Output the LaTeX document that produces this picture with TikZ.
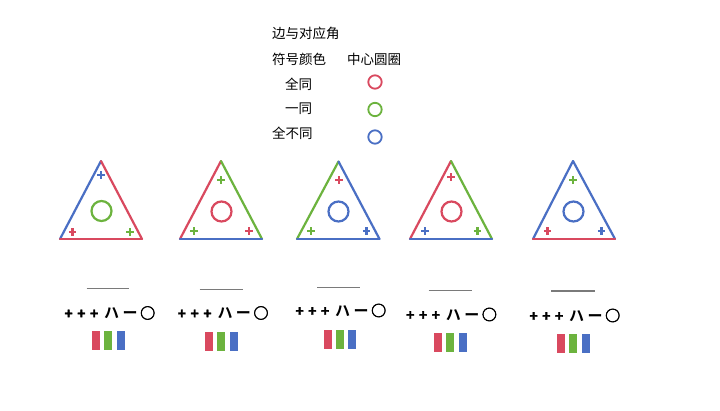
\documentclass[tikz,border=0pt]{standalone}
\usepackage{fontspec}
\newfontfamily\cjk{Noto Sans CJK SC}
\newfontfamily\cjkb{Noto Sans CJK SC Bold}
\newfontfamily\cjkfb{Noto Sans CJK SC Bold}[FakeBold=3]
\newfontfamily\cjkpb{Noto Sans CJK SC Bold}[FakeBold=2]
\definecolor{cR}{HTML}{D9495F}
\definecolor{cG}{HTML}{6CB33E}
\definecolor{cB}{HTML}{4A6FC4}
\definecolor{cL}{HTML}{7A7A7A}
\newcommand{\gb}[2]{\makebox[#1pt][c]{#2}}
\newcommand{\pl}{{\cjkpb\fontsize{14}{14}\selectfont +}}
\begin{document}
\begin{tikzpicture}[x=1pt,y=-1pt,
  lbl/.style={anchor=west,inner sep=0pt,font=\cjk\fontsize{13.5}{15}\selectfont},
  side/.style={line width=2.2pt,line cap=round},
  ring/.style={line width=2.2pt},
  lring/.style={line width=1.8pt},
  pplus/.pic={\draw[line width=2.5pt] (-3.6,0)--(3.6,0) (0,-3.6)--(0,3.6);},
  bar/.style={inner sep=0pt,minimum width=8pt,minimum height=19pt},
  sym/.style={anchor=west,inner sep=0pt,font=\cjkb\fontsize{15}{17}\selectfont},
  gline/.style={line width=1.3pt,cL}]
\path[use as bounding box,fill=white] (0,0) rectangle (720,411);
% legend
\node[lbl] (t0) at (272,33) {边与对应角};
\node[lbl] (t1) at (272,59) {符号颜色};
\node[lbl] (t2) at (347,59) {中心圆圈};
\node[lbl] (t3) at (285,84) {全同};
\node[lbl] (t4) at (285,109) {一同};
\node[lbl] (t5) at (272,133) {全不同};
\draw[lring,cR] (375,82) circle (6.7);
\draw[lring,cG] (375,109.5) circle (6.7);
\draw[lring,cB] (375,137) circle (6.7);
% triangle 1
\coordinate (a1) at (101,161); \coordinate (l1) at (60,239); \coordinate (r1) at (142,239);
\draw[side,cB] (l1)--(a1); \draw[side,cR] (a1)--(r1); \draw[side,cR] (l1)--(r1);
\draw[ring,cG] (101.5,211) circle (10);
\pic[cB] at (101,175) {pplus}; \pic[cR] at (72.5,232) {pplus}; \pic[cG] at (130,232) {pplus};
% triangle 2
\coordinate (a2) at (221,161); \coordinate (l2) at (180,239); \coordinate (r2) at (262,239);
\draw[side,cR] (l2)--(a2); \draw[side,cG] (a2)--(r2); \draw[side,cB] (l2)--(r2);
\draw[ring,cR] (221.5,211.5) circle (10);
\pic[cG] at (221,180) {pplus}; \pic[cG] at (194,231) {pplus}; \pic[cR] at (249,231) {pplus};
% triangle 3
\coordinate (a3) at (338.5,161.5); \coordinate (l3) at (297,239); \coordinate (r3) at (379.5,239);
\draw[side,cG] (l3)--(a3); \draw[side,cB] (a3)--(r3); \draw[side,cB] (l3)--(r3);
\draw[ring,cB] (338.5,211.5) circle (10);
\pic[cR] at (339,180) {pplus}; \pic[cG] at (311,231) {pplus}; \pic[cB] at (366.5,231) {pplus};
% triangle 4
\coordinate (a4) at (451,161); \coordinate (l4) at (410,239); \coordinate (r4) at (492,239);
\draw[side,cR] (l4)--(a4); \draw[side,cG] (a4)--(r4); \draw[side,cB] (l4)--(r4);
\draw[ring,cR] (451.5,211.5) circle (10);
\pic[cR] at (451,177) {pplus}; \pic[cB] at (425,231) {pplus}; \pic[cG] at (477.5,231) {pplus};
% triangle 5
\coordinate (a5) at (573,161); \coordinate (l5) at (533,239); \coordinate (r5) at (615,239);
\draw[side,cB] (l5)--(a5); \draw[side,cB] (a5)--(r5); \draw[side,cR] (l5)--(r5);
\draw[ring,cB] (573.5,211.5) circle (10);
\pic[cG] at (573,180) {pplus}; \pic[cR] at (547.5,231) {pplus}; \pic[cB] at (601.5,231) {pplus};
% bottom groups
\foreach \i/\lx/\rx/\ly/\sx/\sy/\bx/\by in {
  1/86.5/129/288.5/62/313/96/341,
  2/199.5/242.5/289.5/175.3/313/209/342,
  3/317/360/287.5/293/310.5/327.5/339.5,
  4/428.5/471.5/290.5/403.7/314.5/438/343,
  5/551/595/291/527/315.5/561/344}{
  \coordinate (gl\i) at (\lx,\ly); \coordinate (gr\i) at (\rx,\ly);
  \draw[gline] (gl\i)--(gr\i);
  \node[sym] (s\i) at (\sx,\sy) {\gb{12.8}{\pl}\gb{12.8}{\pl}\gb{12.8}{\pl}\gb{22.2}{ハ}\gb{14.8}{ー}\gb{20.2}{\cjkfb ○}};
  \node[bar,fill=cR] (br\i) at (\bx,\by) {};
  \node[bar,fill=cG] (bg\i) at (\bx+12.3,\by) {};
  \node[bar,fill=cB] (bb\i) at (\bx+24.6,\by) {};
}
\end{tikzpicture}
\end{document}
